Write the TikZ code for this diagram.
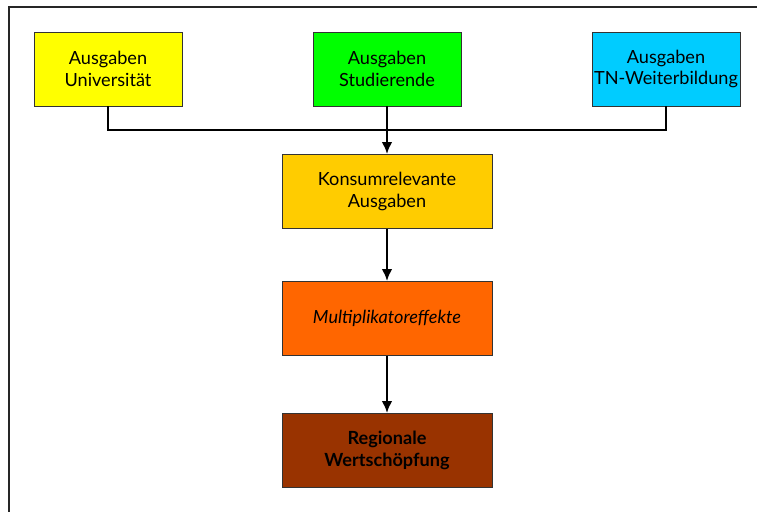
\documentclass[tikz,border=0pt]{standalone}
\usepackage{fontspec}
\setmainfont{Lato}
\usepackage{tikz}
\usetikzlibrary{arrows,arrows.meta,positioning}
\definecolor{uniyellow}{HTML}{FFFF00}
\definecolor{studgreen}{HTML}{00FF00}
\definecolor{tncyan}{HTML}{00CCFF}
\definecolor{konsgold}{HTML}{FFCC00}
\definecolor{multorange}{HTML}{FF6600}
\definecolor{regbrown}{HTML}{993300}
\tikzset{>={Latex[length=9pt,width=8pt]}}

\begin{document}
\begin{tikzpicture}[x=0.75pt,y=-0.75pt]
        % coordinates are in pixels of the 757x511 layout, y pointing down
        \tikzstyle{every node}=[rectangle, draw=black!80, line width=0.6pt, align=center, font=\fontsize{13.6}{16}\selectfont]
        \tikzstyle{topbox}=[minimum width=111pt, minimum height=55.5pt, inner sep=0pt]
        \tikzstyle{midbox}=[minimum width=157.5pt, minimum height=55.5pt]
        \tikzstyle{every edge}=[black, ->, line width=1.9pt, draw]
        \useasboundingbox (0,0) rectangle (757,511);
        \draw[line width=1.8pt, black!85] (9,512) -- (9,7) -- (758,7);

        \node[topbox, fill=studgreen] (S) at (387,69) {Ausgaben\\Studierende};
        \node[topbox, fill=uniyellow, left=209.25pt of S.center, anchor=center] (U) {Ausgaben\\Universität};
        \node[topbox, fill=tncyan, right=209.25pt of S.center, anchor=center] (T) {Ausgaben\\TN-Weiterbildung};

        \node[midbox, fill=konsgold] (K) at (387,191.5) {Konsumrelevante\\Ausgaben};
        \node[midbox, fill=multorange, below=95.25pt of K.center, anchor=center] (M) {\itshape Multiplikatoreffekte};
        \node[midbox, fill=regbrown, below=99pt of M.center, anchor=center] (R) {\bfseries Regionale\\\bfseries Wertschöpfung};

        \coordinate (J) at (387,130);
        \draw[line width=1.9pt] (U.south) |- (J) -| (T.south);
        \draw[line width=1.9pt] (S.south) -- (J);
        \draw (J) edge (K);
        \draw (K) edge (M);
        \draw (M) edge (R);
\end{tikzpicture}
\end{document}
